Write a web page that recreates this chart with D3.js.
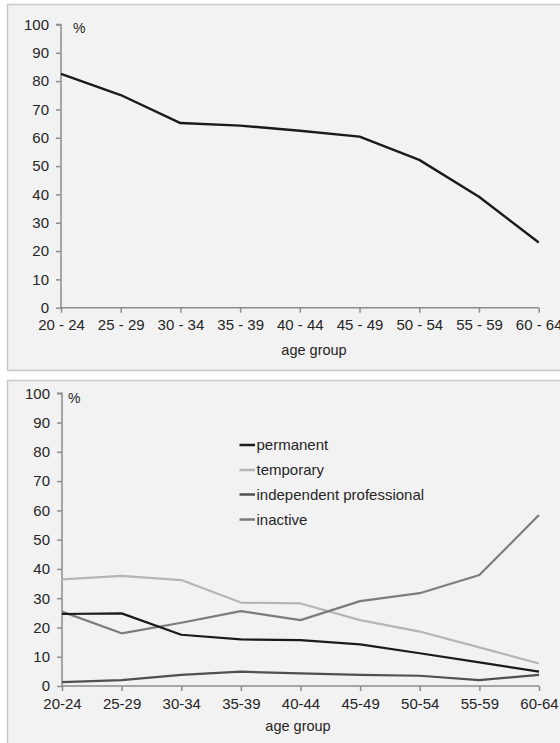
<!DOCTYPE html>
<html><head><meta charset="utf-8">
<script src="https://cdn.jsdelivr.net/npm/d3@7"></script>
<style>body{margin:0;background:#fff}svg{display:block}text{font-family:"Liberation Sans",Arial,sans-serif}</style>
</head><body><svg id="c" width="560" height="743"></svg>
<script>
const topCategories = ["20 - 24","25 - 29","30 - 34","35 - 39","40 - 44","45 - 49","50 - 54","55 - 59","60 - 64"];
const topValues = [82.6, 75.1, 65.2, 64.3, 62.5, 60.4, 52.2, 39.2, 23.0];
const bottomCategories = ["20-24","25-29","30-34","35-39","40-44","45-49","50-54","55-59","60-64"];
const permanent = [24.6, 24.8, 17.5, 15.9, 15.7, 14.2, 11.2, 8.1, 4.9];
const temporary = [36.4, 37.6, 36.2, 28.5, 28.2, 22.5, 18.6, 13.2, 7.7];
const independent = [1.3, 2.0, 3.8, 4.9, 4.3, 3.8, 3.5, 2.0, 3.8];
const inactive = [25.4, 18.0, 21.6, 25.6, 22.5, 29.0, 31.7, 37.9, 58.4];
const yTicks = [0,10,20,30,40,50,60,70,80,90,100];
const seriesNames = ["permanent","temporary","independent professional","inactive"];
const seriesColors = ["#1a1a1a","#b5b5b5","#505050","#7c7c7c"];

const svg = d3.select("#c");

function panel(y0, y1){
  svg.append("rect").attr("x",7.5).attr("y",y0+0.5).attr("width",570).attr("height",y1-y0)
    .attr("fill","#f2f2f2").attr("stroke","#c6c6c6").attr("stroke-width",1.5);
}

function drawChart(cfg){
  const x = d3.scalePoint().domain(cfg.cats).range([cfg.x0, cfg.x1]);
  const y = d3.scaleLinear().domain([0,100]).range([cfg.yb, cfg.yt]);
  const g = svg.append("g");
  const ya = g.append("g").attr("transform",`translate(${cfg.x0},0)`)
    .call(d3.axisLeft(y).tickValues(yTicks).tickSize(5).tickPadding(7));
  const xa = g.append("g").attr("transform",`translate(0,${cfg.yb})`)
    .call(d3.axisBottom(x).tickSize(5).tickPadding(7));
  [ya,xa].forEach(a=>{
    a.selectAll("path").attr("stroke","#8c8c8c").attr("stroke-width",1.5);
    a.selectAll("line").attr("stroke","#8c8c8c").attr("stroke-width",1.5);
    a.selectAll("text").attr("fill","#262626").style("font-size","15px").style("font-family","'Liberation Sans',Arial,sans-serif");
  });
  ya.select(".domain").attr("d",`M-5,${cfg.yt}H0V${cfg.yb}`);
  xa.select(".domain").attr("d",`M${cfg.x0},0H${cfg.x1}`);
  g.append("text").attr("x",cfg.x0+cfg.pctDx).attr("y",cfg.yt+cfg.pctDy).text("%")
    .attr("fill","#262626").style("font-size","14px");
  g.append("text").attr("x",cfg.xlx).attr("y",cfg.xly).attr("text-anchor","middle").text("age group")
    .attr("fill","#262626").style("font-size","14.5px");
  const line = d3.line().x((d,i)=>x(cfg.cats[i])).y(d=>y(d));
  cfg.series.forEach(s=>{
    g.append("path").datum(s.values).attr("d",line).attr("fill","none")
      .attr("stroke",s.color).attr("stroke-width",s.w||2.2).attr("stroke-linejoin","round");
  });
  return {x,y,g};
}

panel(4, 370);
panel(380, 760);

drawChart({cats: topCategories, x0:61, x1:538.7, yt:24.5, yb:307.7, pctDx:12, pctDy:8, xlx:314, xly:355,
  series:[{values: topValues, color:"#1a1a1a", w:2.4}]});

drawChart({cats: bottomCategories, x0:62, x1:539, yt:393.3, yb:686, pctDx:6, pctDy:10, xlx:298, xly:731,
  series:[
    {values: temporary, color: seriesColors[1]},
    {values: inactive, color: seriesColors[3]},
    {values: independent, color: seriesColors[2]},
    {values: permanent, color: seriesColors[0]}
  ]});

const legY = [445, 470, 494.5, 519.5];
const leg = svg.append("g");
seriesNames.forEach((n,i)=>{
  leg.append("line").attr("x1",239.5).attr("x2",255).attr("y1",legY[i]).attr("y2",legY[i])
    .attr("stroke",seriesColors[i]).attr("stroke-width",2.5);
  leg.append("text").attr("x",256.5).attr("y",legY[i]+5).text(n).attr("fill","#262626").style("font-size","15px");
});
</script></body></html>
